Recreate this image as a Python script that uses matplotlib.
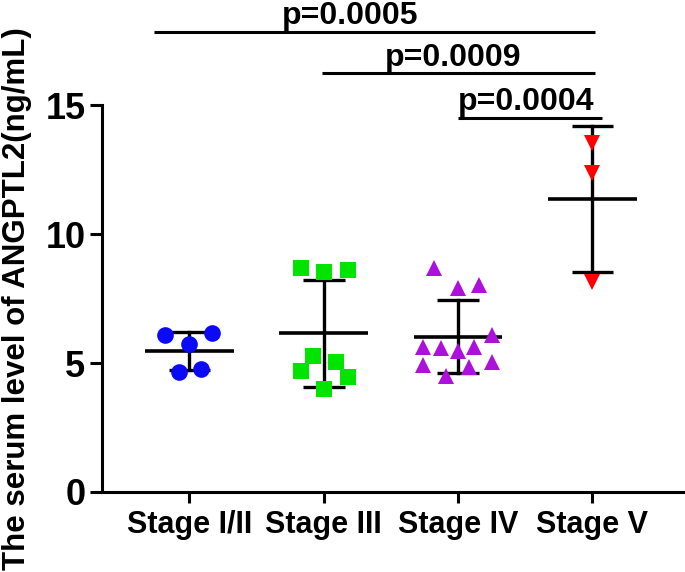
#!/usr/bin/env python3
# -*- coding: utf-8 -*-
import numpy as np
import matplotlib
matplotlib.use('Agg')
import matplotlib.pyplot as plt

plt.rcParams['font.family'] = ['Liberation Sans', 'DejaVu Sans']
plt.rcParams['font.weight'] = 'bold'

groups = ['Stage I/II', 'Stage III', 'Stage IV', 'Stage V']
stage12 = [6.07, 6.18, 5.72, 4.64, 4.75]
stage3 = [8.70, 8.54, 8.62, 5.26, 4.68, 5.03, 4.45, 3.98]
stage4 = [8.70, 7.92, 8.04, 6.07, 5.64, 5.57, 5.45, 5.64, 4.91, 4.83, 5.03, 4.48]
stage5 = [13.53, 12.37, 8.16]
# horizontal scatter offsets within each group
offs12 = [-0.18, 0.17, 0.0, -0.08, 0.09]
offs3 = [-0.17, 0.0, 0.18, -0.08, -0.17, 0.09, 0.18, 0.0]
offs4 = [-0.18, 0.0, 0.16, 0.25, -0.26, -0.13, 0.0, 0.12, -0.26, 0.08, 0.25, -0.09]
offs5 = [0.0, 0.0, 0.0]

pvals = ['p=0.0005', 'p=0.0009', 'p=0.0004']
pairs = [(-0.26, 3.02), (0.99, 3.02), (2.0, 3.07)]
plevels = [17.86, 16.24, 14.5]
ptext_x = [1.20, 1.96, 2.51]

styles = [('o', '#0a0af5'), ('s', '#00e400'), ('^', '#ad10dc'), ('v', '#ff0000')]

fig = plt.figure(figsize=(6.85, 5.72), dpi=100)
ax = fig.add_axes([0.149, 0.140, 0.851, 0.676])

data = [stage12, stage3, stage4, stage5]
offsets = [offs12, offs3, offs4, offs5]
for i, (vals, offs) in enumerate(zip(data, offsets)):
    vals = np.array(vals)
    m = vals.mean()
    sd = vals.std(ddof=1)
    ax.plot([i - 0.33, i + 0.33], [m, m], color='black', lw=2.6, zorder=2, solid_capstyle='butt')
    ax.plot([i, i], [m - sd, m + sd], color='black', lw=2.4, zorder=2)
    for y in (m - sd, m + sd):
        ax.plot([i - 0.155, i + 0.155], [y, y], color='black', lw=2.4, zorder=2, solid_capstyle='butt')
    mk, col = styles[i]
    ax.plot(i + np.array(offs), vals, linestyle='none', marker=mk, color=col,
            markersize=12, markeredgewidth=0, zorder=3, clip_on=False)

for (x0, x1), lev, lab, tx in zip(pairs, plevels, pvals, ptext_x):
    ax.plot([x0, x1], [lev, lev], color='black', lw=2.2, clip_on=False, solid_capstyle='butt')
    ax.text(tx, lev + 0.3, lab, ha='center', va='baseline', fontsize=23, fontweight='bold')

ax.set_xlim(-0.65, 3.69)
ax.set_ylim(0, 15)
ax.set_yticks([0, 5, 10, 15])
ax.set_xticks(range(4))
ax.set_xticklabels(groups)
ax.spines['top'].set_visible(False)
ax.spines['right'].set_visible(False)
for s in ('left', 'bottom'):
    ax.spines[s].set_linewidth(2.2)
ax.tick_params(axis='x', width=2.2, length=8, labelsize=22, pad=5)
ax.tick_params(axis='y', width=2.2, length=9, labelsize=26, pad=3)
ax.set_ylabel('The serum level of ANGPTL2(ng/mL)', fontsize=22.5, fontweight='bold')
ax.yaxis.set_label_coords(-0.12, 0.5)

fig.savefig('out.png', dpi=100)
